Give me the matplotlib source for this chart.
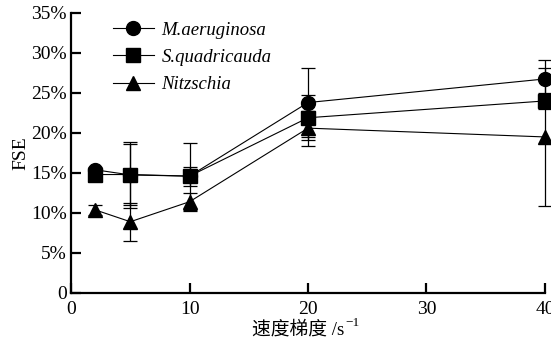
import matplotlib.pyplot as plt
from matplotlib.lines import Line2D
from matplotlib.ticker import FuncFormatter

plt.rcParams['font.family'] = ['Liberation Serif', 'Noto Sans CJK SC', 'DejaVu Sans']

# velocity gradient (1/s)
x = [2, 5, 10, 20, 40]

# FSE values (%) and error bars
m_aer = [15.4, 14.75, 14.6, 23.8, 26.75]
m_aer_err = [0.3, 4.15, 1.2, 4.3, 2.4]
s_quad = [14.8, 14.8, 14.6, 21.9, 24.0]
s_quad_err = [0.3, 3.8, 4.2, 2.8, 1.0]
nitz = [10.4, 8.9, 11.4, 20.6, 19.5]
nitz_err = [0.6, 2.4, 1.1, 2.2, 8.6]

labels = ['M.aeruginosa', 'S.quadricauda', 'Nitzschia']
markers = ['o', 's', '^']

fig = plt.figure(figsize=(5.51, 3.41), dpi=100)
ax = fig.add_axes([0.129, 0.141, 0.860, 0.821])

handles = []
for y, err, lab, mk in zip([m_aer, s_quad, nitz], [m_aer_err, s_quad_err, nitz_err], labels, markers):
    ax.errorbar(x, y, yerr=err, color='black', marker=mk, markersize=10, linewidth=0.8,
                elinewidth=0.9, capsize=5, capthick=0.9, clip_on=False)
    handles.append(Line2D([], [], color='black', marker=mk, markersize=10, linewidth=0.8))

ax.set_xlim(0, 40)
ax.set_ylim(0, 35)
ax.set_xticks([0, 10, 20, 30, 40])
ax.set_yticks(range(0, 36, 5))
ax.yaxis.set_major_formatter(FuncFormatter(lambda v, p: '0' if v == 0 else '%d%%' % v))

for s in ['top', 'right']:
    ax.spines[s].set_visible(False)
for s in ['left', 'bottom']:
    ax.spines[s].set_linewidth(1.6)
ax.tick_params(direction='in', length=7, width=1.6, labelsize=14, pad=3)
ax.tick_params(axis='x', pad=6)

ax.set_ylabel('FSE', fontsize=14, labelpad=1)

# x label: CJK text plus a raised "-1"
main = fig.text(0.624, 0.018, '速度梯度 /s', fontsize=13.5, ha='right', va='baseline')
fig.canvas.draw()
bb = main.get_window_extent().transformed(fig.transFigure.inverted())
fig.text(bb.x1 + 0.002, 0.044, '\u22121', fontsize=9.5, ha='left', va='baseline')

leg = ax.legend(handles, labels, loc='upper left', bbox_to_anchor=(0.052, 1.03), frameon=False,
                fontsize=13.5, handlelength=2.2, labelspacing=0.55, handletextpad=0.4)
for t in leg.get_texts():
    t.set_fontstyle('italic')

plt.savefig('out.png', dpi=100)
